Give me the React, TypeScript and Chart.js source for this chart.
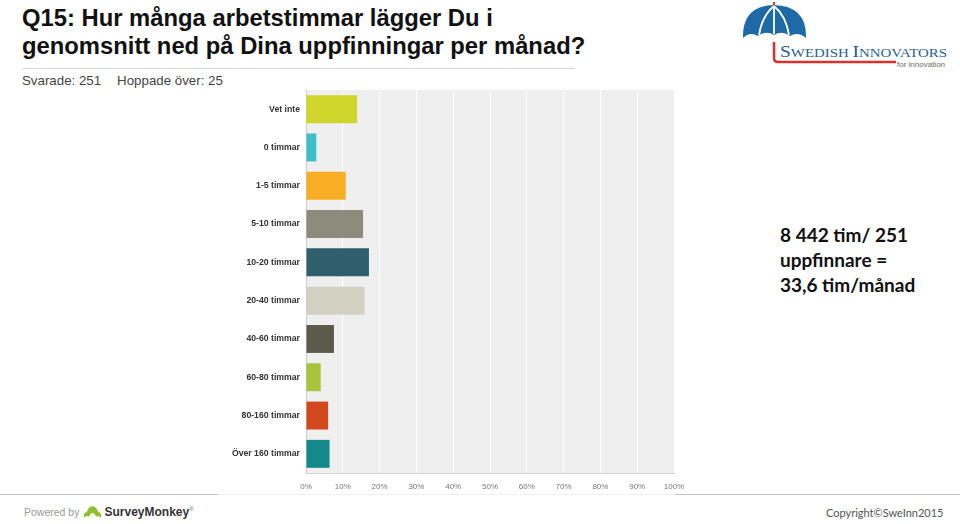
import React, { useEffect, useRef } from "react";
import { Chart, registerables } from "chart.js";

Chart.register(...registerables);

const categories = [
  "Vet inte",
  "0 timmar",
  "1-5 timmar",
  "5-10 timmar",
  "10-20 timmar",
  "20-40 timmar",
  "40-60 timmar",
  "60-80 timmar",
  "80-160 timmar",
  "Över 160 timmar",
];
const percentages = [13.9, 2.8, 10.8, 15.5, 17.1, 15.9, 7.6, 4.0, 6.0, 6.4];
const barColors = [
  "#cfd52b",
  "#3cbfc6",
  "#f7ae25",
  "#8d8b7b",
  "#2f5f6d",
  "#d3d1c2",
  "#5b5a4b",
  "#a9c33c",
  "#d3481f",
  "#13898b",
];
const xTickValues = [0, 10, 20, 30, 40, 50, 60, 70, 80, 90, 100];

const plotBg = {
  id: "plotBg",
  beforeDraw(chart: any) {
    const { ctx, chartArea } = chart;
    if (!chartArea) return;
    ctx.save();
    ctx.fillStyle = "#efefef";
    ctx.fillRect(chartArea.left, chartArea.top, chartArea.right - chartArea.left, chartArea.bottom - chartArea.top);
    ctx.restore();
  },
};

function BarChart() {
  const ref = useRef<HTMLCanvasElement | null>(null);
  useEffect(() => {
    if (!ref.current) return;
    const chart = new Chart(ref.current, {
      type: "bar",
      data: {
        labels: categories,
        datasets: [
          {
            data: percentages,
            backgroundColor: barColors,
            borderWidth: 0,
            categoryPercentage: 1,
            barPercentage: 0.73,
          },
        ],
      },
      options: {
        indexAxis: "y",
        responsive: false,
        animation: false,
        devicePixelRatio: 1,
        layout: { padding: { left: 0, top: 5, right: 26, bottom: 2 } },
        plugins: {
          legend: { display: false },
          tooltip: { enabled: false },
          title: { display: false },
        },
        scales: {
          x: {
            min: 0,
            max: 100,
            afterBuildTicks: (scale: any) => {
              scale.ticks = xTickValues.map((v) => ({ value: v }));
            },
            afterFit: (scale: any) => {
              scale.height = 20;
            },
            ticks: {
              callback: (v: any) => v + "%",
              color: "#777777",
              font: { family: "'Liberation Sans', Arial, sans-serif", size: 8 },
              padding: 9,
              maxRotation: 0,
              autoSkip: false,
            },
            grid: { color: "#ffffff", lineWidth: 1, drawTicks: false },
            border: { display: true, color: "#d4d4d4", width: 1 },
          },
          y: {
            afterFit: (scale: any) => {
              scale.width = 86;
              scale.paddingTop = 0;
              scale.paddingBottom = 0;
            },
            ticks: {
              color: "#333333",
              font: { family: "'Liberation Sans', Arial, sans-serif", size: 8.7, weight: "bold" },
              padding: 6,
              autoSkip: false,
            },
            grid: { display: false, drawTicks: false },
            border: { display: true, color: "#cccccc", width: 1 },
          },
        },
      },
      plugins: [plotBg],
    } as any);
    return () => chart.destroy();
  }, []);
  return (
    <canvas
      ref={ref}
      width={480}
      height={410}
      style={{ position: "absolute", left: 220, top: 85, width: 480, height: 410 }}
    />
  );
}

function Logo() {
  return (
    <svg
      width={220}
      height={75}
      style={{ position: "absolute", left: 740, top: 0 }}
      viewBox="0 0 220 75"
    >
      <line x1={34} y1={2} x2={34} y2={7} stroke="#d9312b" strokeWidth={2} />
      <path
        d="M3,38 Q2,6 34,5 Q67,6 66,38 Q58,31 50,36 Q42,30 34,35 Q26,30 18,36 Q10,31 3,38 Z"
        fill="#1d6aa6"
      />
      <path d="M34,6 Q22,16 19,35 M34,6 L34,34 M34,6 Q46,16 49,35" stroke="#ffffff" strokeWidth={1.8} fill="none" />
      <path d="M34,42 L34,58 Q34,62 38,62 L156,62" stroke="#d9312b" strokeWidth={2.5} fill="none" />
      <text
        x={40}
        y={57}
        fill="#285f92"
        fontFamily="'Liberation Serif', 'DejaVu Serif', serif"
        textLength={167}
        lengthAdjust="spacingAndGlyphs"
      >
        <tspan fontSize={17}>S</tspan>
        <tspan fontSize={13}>WEDISH </tspan>
        <tspan fontSize={17}>I</tspan>
        <tspan fontSize={13}>NNOVATORS</tspan>
      </text>
      <text x={157} y={67} fill="#6b6b6b" fontSize={8} fontFamily="'Liberation Sans', Arial, sans-serif">
        for innovation
      </text>
    </svg>
  );
}

export default function App() {
  return (
    <div
      style={{
        position: "absolute",
        left: 0,
        top: 0,
        width: 960,
        height: 524,
        background: "#ffffff",
        overflow: "hidden",
        fontFamily: "'Liberation Sans', Arial, sans-serif",
      }}
    >
      <div
        style={{
          position: "absolute",
          left: 22,
          top: 4,
          width: 640,
          fontSize: 23.8,
          lineHeight: "28px",
          fontWeight: "bold",
          color: "#111111",
          whiteSpace: "nowrap",
        }}
      >
        Q15: Hur många arbetstimmar lägger Du i
        <br />
        genomsnitt ned på Dina uppfinningar per månad?
      </div>
      <div style={{ position: "absolute", left: 22, top: 68, width: 553, height: 1, background: "#d8d8d8" }} />
      <div
        style={{
          position: "absolute",
          left: 22,
          top: 73,
          fontSize: 13.3,
          lineHeight: "16px",
          color: "#444444",
          whiteSpace: "nowrap",
        }}
      >
        <span>Svarade: 251</span>
        <span style={{ marginLeft: 16 }}>Hoppade över: 25</span>
      </div>
      <Logo />
      <BarChart />
      <div
        style={{
          position: "absolute",
          left: 780,
          top: 222,
          fontFamily: "Lato, 'Open Sans', sans-serif",
          fontWeight: "bold",
          fontSize: 19,
          lineHeight: "25px",
          color: "#111111",
          whiteSpace: "nowrap",
        }}
      >
        8 442 tim/ 251
        <br />
        uppfinnare =
        <br />
        33,6 tim/månad
      </div>
      <div style={{ position: "absolute", left: 0, top: 494, width: 960, height: 1, background: "#c4c4c4" }} />
      <div style={{ position: "absolute", left: 218, top: 494, width: 457, height: 1, background: "#f0f0f0" }} />
      <div
        style={{
          position: "absolute",
          left: 24,
          top: 504,
          fontSize: 10.5,
          lineHeight: "16px",
          color: "#9a9a9a",
          whiteSpace: "nowrap",
          display: "flex",
          alignItems: "center",
        }}
      >
        <span>Powered by</span>
        <svg width={19} height={14} viewBox="0 0 20 14" style={{ marginLeft: 4, marginRight: 2 }}>
          <path
            d="M1,13 Q0,8 4,7 Q6,1 10,1 Q14,1 16,7 Q20,8 19,13 Q16,10 14,12 Q12,8 10,8 Q8,8 6,12 Q4,10 1,13 Z"
            fill="#93bf2f"
          />
        </svg>
        <span style={{ fontSize: 12, fontWeight: "bold", color: "#333333" }}>SurveyMonkey</span>
        <span style={{ fontSize: 6, color: "#666", marginTop: -6 }}>®</span>
      </div>
      <div
        style={{
          position: "absolute",
          left: 826,
          top: 505,
          fontFamily: "Lato, 'Open Sans', sans-serif",
          fontSize: 11,
          lineHeight: "16px",
          color: "#555555",
          whiteSpace: "nowrap",
        }}
      >
        Copyright©SweInn2015
      </div>
    </div>
  );
}
